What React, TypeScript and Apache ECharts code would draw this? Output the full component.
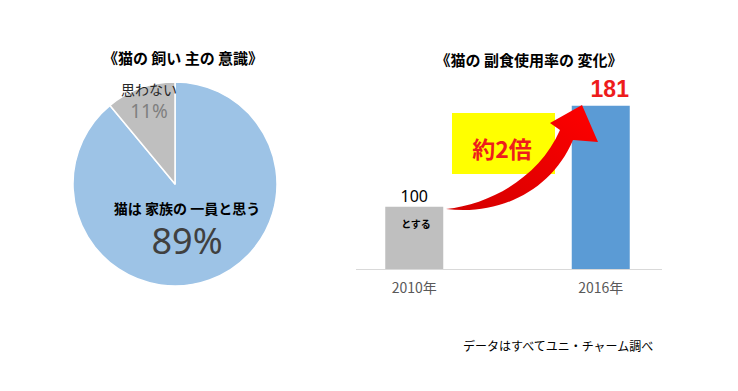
import React, { useEffect, useRef } from "react";
import * as echarts from "echarts";

const pieNames = ["猫は 家族の 一員と思う", "思わない"];
const pieValues = [89, 11];
const pieLabels = ["89%", "11%"];
const barCategories = ["2010年", "2016年"];
const barValues = [100, 181];
const barLabels = ["100", "181"];

const JP = "'Noto Sans CJK JP', 'Noto Sans', sans-serif";

export default function App() {
  const ref = useRef<HTMLDivElement>(null);
  useEffect(() => {
    echarts.graphic.registerShape(
      "bigArrow",
      echarts.graphic.extendPath(
        "M446,209 C500,216 552,190 573,140 L598,142 L582,105 L550,123 L560,130 C540,176 492,204 446,209 Z",
        {}
      )
    );
    const chart = echarts.init(ref.current!, null, { renderer: "svg" });
    chart.setOption({
      animation: false,
      backgroundColor: "#ffffff",
      title: [
        {
          text: "《猫の 飼い 主の 意識》",
          left: 178,
          top: 45,
          textAlign: "center",
          textStyle: { fontFamily: JP, fontSize: 15, fontWeight: "bold", color: "#000" },
        },
        {
          text: "《猫の 副食使用率の 変化》",
          left: 524,
          top: 47,
          textAlign: "center",
          textStyle: { fontFamily: JP, fontSize: 15, fontWeight: "bold", color: "#000" },
        },
      ],
      grid: { left: 321, right: 44, top: 82, bottom: 122 },
      xAxis: {
        type: "category",
        data: barCategories,
        axisLine: { show: false },
        axisTick: { show: false },
        axisLabel: { color: "#595959", fontSize: 14, fontFamily: JP, margin: 11 },
      },
      yAxis: { type: "value", min: 50, max: 200, show: false, splitLine: { show: false } },
      series: [
        {
          type: "pie",
          center: [175, 184],
          radius: 102,
          startAngle: 90,
          clockwise: true,
          itemStyle: { borderColor: "#ffffff", borderWidth: 1.5 },
          labelLine: { show: false },
          emphasis: { disabled: true },
          data: [
            {
              name: pieNames[0],
              value: pieValues[0],
              itemStyle: { color: "#9DC3E6" },
              label: {
                show: true,
                position: "inside",
                formatter: "{a|" + pieNames[0] + "}\n{b|" + pieLabels[0] + "}",
                rich: {
                  a: { fontFamily: JP, fontSize: 14, fontWeight: "bold", color: "#000", lineHeight: 20, align: "center" },
                  b: { fontFamily: "'Noto Sans', sans-serif", fontSize: 36, color: "#404040", lineHeight: 44, align: "center" },
                },
              },
            },
            {
              name: pieNames[1],
              value: pieValues[1],
              itemStyle: { color: "#BFBFBF" },
              label: {
                show: true,
                position: "inside",
                formatter: "{c|" + pieNames[1] + "}\n{d|" + pieLabels[1] + "}",
                rich: {
                  c: { fontFamily: JP, fontSize: 14, color: "#262626", lineHeight: 20, align: "center" },
                  d: { fontFamily: "'Noto Sans', sans-serif", fontSize: 19, color: "#7f7f7f", lineHeight: 25, align: "center" },
                },
              },
            },
          ],
          labelLayout: (params: any) =>
            params.dataIndex === 0
              ? { x: 187, y: 230, align: "center", verticalAlign: "middle" }
              : { x: 149, y: 101, align: "center", verticalAlign: "middle" },
        },
        {
          type: "bar",
          barWidth: 58,
          emphasis: { disabled: true },
          data: [
            {
              value: barValues[0],
              itemStyle: { color: "#BFBFBF" },
              label: {
                show: true,
                position: "top",
                distance: 3,
                formatter: barLabels[0],
                fontFamily: "'Noto Sans', sans-serif",
                fontSize: 16,
                color: "#000",
              },
            },
            {
              value: barValues[1],
              itemStyle: { color: "#5B9BD5" },
              label: {
                show: true,
                position: "top",
                distance: 5,
                offset: [9, 0],
                formatter: barLabels[1],
                fontFamily: "'Liberation Sans', sans-serif",
                fontSize: 23,
                fontWeight: "bold",
                color: "#ee1c1c",
              },
            },
          ],
        },
      ],
      graphic: [
        {
          type: "line",
          shape: { x1: 356, y1: 269.5, x2: 662, y2: 269.5 },
          style: { stroke: "#d9d9d9", lineWidth: 1 },
          z: 5,
        },
        {
          type: "rect",
          shape: { x: 452, y: 113, width: 103, height: 61 },
          style: { fill: "#ffff00" },
          z: 50,
        },
        {
          type: "text",
          x: 502,
          y: 148,
          style: {
            text: "約2倍",
            fontFamily: JP,
            fontSize: 23,
            fontWeight: "bold",
            fill: "#ee1c1c",
            align: "center",
            verticalAlign: "middle",
          },
          z: 51,
        },
        {
          type: "bigArrow",
          x: 0,
          y: 0,
          style: {
            fill: new echarts.graphic.LinearGradient(0, 1, 1, 0, [
              { offset: 0, color: "#d40000" },
              { offset: 1, color: "#ff0000" },
            ]),
          },
          z: 60,
        },
        {
          type: "text",
          x: 416,
          y: 223,
          style: {
            text: "とする",
            fontFamily: JP,
            fontSize: 10,
            fontWeight: "bold",
            fill: "#000",
            align: "center",
            verticalAlign: "middle",
          },
          z: 51,
        },
        {
          type: "text",
          x: 463,
          y: 345,
          style: {
            text: "データはすべてユニ・チャーム調べ",
            fontFamily: JP,
            fontSize: 12,
            fill: "#000",
            align: "left",
            verticalAlign: "middle",
          },
          z: 51,
        },
      ],
    });
    return () => chart.dispose();
  }, []);
  return (
    <div
      ref={ref}
      style={{ position: "fixed", left: 0, top: 0, width: 738, height: 391, background: "#fff" }}
    />
  );
}
